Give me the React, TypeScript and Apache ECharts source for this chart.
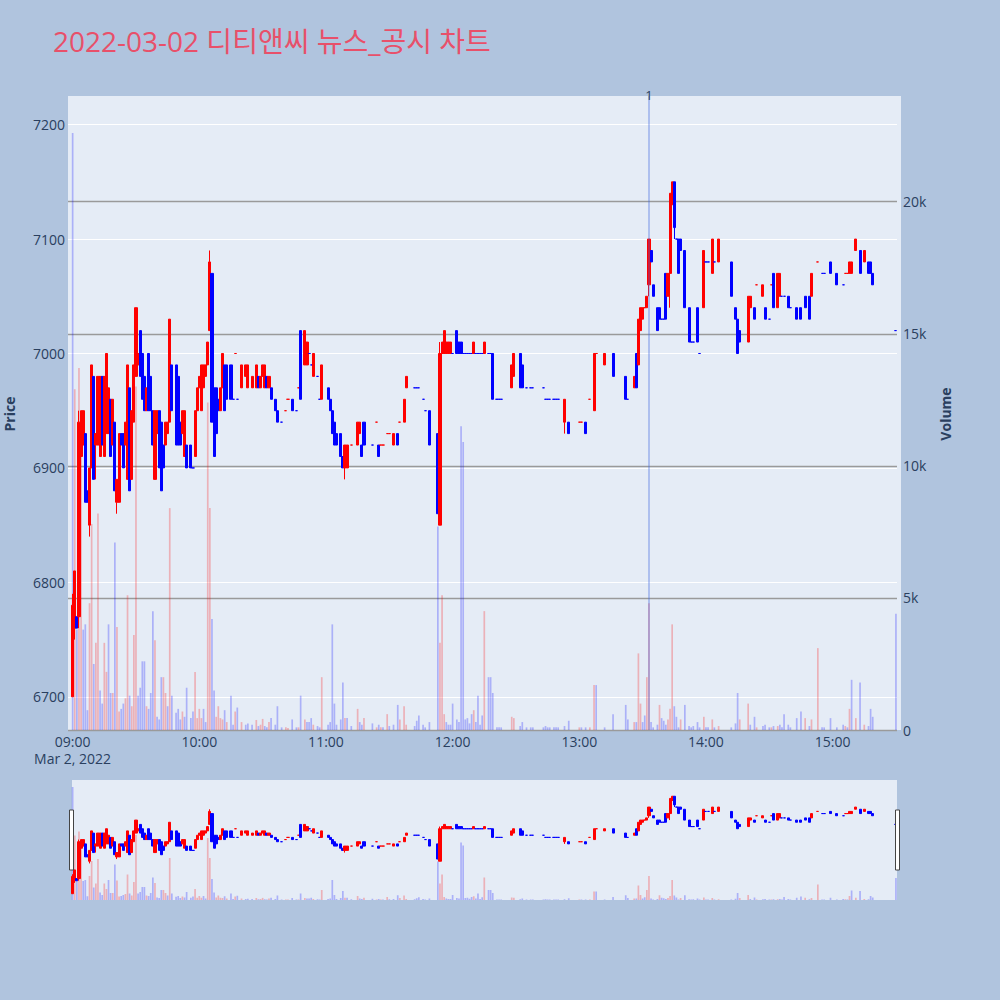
import React, { useEffect, useRef } from "react";
import * as echarts from "echarts";

const titleText = "2022-03-02 디티앤씨 뉴스_공시 차트";
const dateLabel = "Mar 2, 2022";
const hourTicks = ["09:00", "10:00", "11:00", "12:00", "13:00", "14:00", "15:00"];
const priceTicks = [6700, 6800, 6900, 7000, 7100, 7200];
const volumeTicks = [0, 5000, 10000, 15000, 20000];
const newsTimes = ["13:33"];
const newsLabels = ["1"];

const times = [
  "09:00","09:01","09:02","09:03","09:04","09:05","09:06","09:07","09:08","09:09",
  "09:10","09:11","09:12","09:13","09:14","09:15","09:16","09:17","09:18","09:19",
  "09:20","09:21","09:22","09:23","09:24","09:25","09:26","09:27","09:28","09:29",
  "09:30","09:31","09:32","09:33","09:34","09:35","09:36","09:37","09:38","09:39",
  "09:40","09:41","09:42","09:43","09:44","09:45","09:46","09:47",
  "09:49","09:50","09:51","09:52","09:53","09:54",
  "09:56","09:57","09:58","09:59",
  "10:00","10:01","10:02","10:03","10:04","10:05","10:06","10:07","10:08","10:09","10:10","10:11","10:12","10:13",
  "10:15","10:16","10:17","10:18",
  "10:20","10:22","10:23","10:25",
  "10:27","10:28","10:29","10:30","10:31","10:32","10:33","10:34",
  "10:36","10:37","10:39","10:41","10:42","10:44","10:46","10:47","10:48",
  "10:50","10:51","10:52","10:53","10:54","10:56","10:57","10:58",
  "11:01","11:02","11:03","11:04","11:05",
  "11:07","11:08","11:09","11:10",
  "11:12",
  "11:15","11:16","11:17","11:18",
  "11:22",
  "11:24","11:25","11:26","11:27",
  "11:29","11:30",
  "11:32",
  "11:34","11:35",
  "11:37","11:38",
  "11:42","11:43","11:44",
  "11:46","11:47",
  "11:49",
  "11:53","11:54","11:55","11:56","11:57","11:58","11:59",
  "12:00",
  "12:02","12:03","12:04","12:05","12:06","12:07","12:08","12:09","12:10","12:11","12:12","12:13","12:14","12:15",
  "12:17","12:18","12:19",
  "12:21","12:22","12:23",
  "12:28","12:29",
  "12:32","12:33",
  "12:35","12:37","12:38",
  "12:43","12:44","12:45","12:46",
  "12:48","12:49","12:50",
  "12:53","12:55",
  "13:00","13:01","13:03","13:05","13:07","13:08",
  "13:12","13:16",
  "13:22","13:23",
  "13:26","13:27","13:28","13:29","13:30","13:31","13:32","13:33","13:34","13:35",
  "13:37","13:38","13:39","13:40","13:41","13:42","13:43","13:44","13:45","13:46","13:47","13:48",
  "13:50",
  "13:52","13:53","13:54",
  "13:56","13:57",
  "13:59",
  "14:00","14:01","14:03","14:04","14:06",
  "14:12","14:14","14:15","14:16",
  "14:20","14:21","14:23","14:24",
  "14:27","14:28",
  "14:30","14:31","14:32",
  "14:34","14:35","14:36","14:37",
  "14:39","14:40",
  "14:43","14:45","14:47","14:49","14:50",
  "14:53","14:55","14:56",
  "14:59",
  "15:02","15:05","15:06","15:07","15:08","15:09","15:11","15:13","15:15","15:17","15:18","15:19","15:30",
];

const opens = [
  // 09
  6700,6760,6770,6770,6910,6920,6930,6880,6850,6900,
  6980,6920,6920,6910,6980,6910,6930,6930,6960,6920,
  6940,6870,6870,6930,6930,6920,6890,6970,6890,6940,
  6980,6990,7020,7000,6980,6950,7000,6980,6950,6890,
  6930,6950,6940,6920,6920,6930,6940,6990,
  6990,6980,6940,6930,6910,6920,
  6920,6900,6910,6950,
  // 10
  6970,6950,6970,6980,6990,7020,7070,6970,6970,6960,6950,6970,6990,6990,
  6990,6960,7000,6960,
  6970,6980,6970,6970,
  6970,6980,6970,6980,6970,6980,6970,6970,
  6960,6950,6940,6950,6960,6960,6950,6970,7020,
  6990,6990,7000,6990,6980,6980,6960,6960,
  // 11
  6970,6960,6950,6940,6930,
  6930,6910,6900,6900,
  6920,
  6920,6930,6920,6940,
  6920,
  6940,6920,6920,6920,
  6930,6930,
  6920,
  6930,6940,
  6940,6970,
  6970,6970,6970,
  6960,6950,
  6950,
  6930,6850,7000,7000,7000,7000,7000,
  // 12
  7000,
  7020,7010,7010,7000,7000,7000,7000,7000,7000,7000,7000,7000,7000,7000,
  7000,7000,7000,
  6960,6960,6960,
  6970,6980,
  7000,6990,
  6970,6970,6970,
  6970,6960,6960,6960,
  6960,6960,6960,
  6940,6940,
  // 13
  6940,6940,6940,6960,6950,7000,
  6990,7000,
  6980,6960,
  6970,7000,6990,7020,7030,7040,7040,7060,7090,7060,
  7040,7040,7030,7030,7070,7050,7070,7130,7150,7100,7100,7100,
  7090,
  7040,7010,7010,
  7040,7000,
  7040,
  // 14
  7080,7080,7070,7080,7080,
  7080,7040,7030,7020,
  7010,7040,7040,7060,
  7050,7040,
  7030,7060,7070,
  7040,7050,7050,7050,
  7050,7040,
  7040,7040,7050,7050,7050,
  7080,7070,7070,
  7080,
  // 15
  7070,7060,7070,7070,7070,7070,7090,7090,7080,7080,7080,7070,7020,
];

const closes = [
  // 09
  6780,6810,6760,6940,6950,6950,6870,6870,6900,6990,
  6890,6930,6980,6980,6920,6980,7000,6970,6910,6960,
  6880,6890,6930,6920,6900,6940,6990,6880,6950,6990,
  7040,7000,6980,6960,6950,6970,6950,6950,6920,6950,
  6950,6900,6880,6900,6940,6940,7030,6950,
  6920,6920,6920,6950,6950,6900,
  6900,6900,6950,6970,
  // 10
  6980,6990,6990,6990,7010,7080,6940,6910,6930,6950,6970,7000,6950,6960,
  6960,6960,7000,6960,
  6990,6990,6990,6980,
  6990,6970,6980,6990,6990,6970,6980,6960,
  6950,6940,6940,6950,6960,6950,6950,6970,6960,
  7020,7010,7000,6990,7000,6980,6960,6990,
  // 11
  6960,6950,6930,6920,6920,
  6910,6900,6920,6920,
  6920,
  6940,6940,6910,6920,
  6920,
  6940,6910,6920,6920,
  6930,6930,
  6930,
  6920,6940,
  6960,6980,
  6970,6970,6970,
  6960,6950,
  6920,
  6860,7000,7010,7020,7010,7010,7010,
  // 12
  7000,
  7000,7000,7000,7000,7000,7000,7000,7000,7010,7000,7000,7000,7000,7010,
  7000,7000,6960,
  6960,6960,6960,
  6990,7000,
  6970,6970,
  6970,6970,6970,
  6970,6960,6960,6960,
  6960,6960,6960,
  6960,6930,
  // 13
  6940,6940,6930,6960,7000,7000,
  7000,6980,
  6960,6960,
  6980,6970,7030,7040,7040,7040,7050,7100,7080,7050,
  7020,7030,7030,7030,7030,7070,7140,7150,7110,7100,7070,7090,
  7040,
  7010,7010,7010,
  7010,7000,
  7090,
  // 14
  7080,7080,7100,7080,7100,
  7050,7030,7000,7010,
  7050,7050,7030,7060,
  7060,7030,
  7030,7060,7040,
  7070,7070,7050,7050,
  7040,7040,
  7030,7030,7040,7030,7070,
  7080,7070,7070,
  7070,
  // 15
  7060,7060,7070,7070,7080,7080,7100,7070,7090,7070,7070,7060,7020,
];

const highs = [
  // 09
  6790,6810,6770,6950,6950,6950,6930,6880,6900,6990,
  6980,6930,6980,6980,6980,6980,7000,6970,6960,6960,
  6940,6890,6930,6930,6930,6940,6990,6970,6950,6990,
  7040,7000,7020,7000,6980,6970,7000,6980,6950,6950,
  6950,6950,6940,6920,6940,6940,7030,6990,
  6990,6980,6940,6950,6950,6920,
  6920,6900,6950,6970,
  // 10
  6980,6990,6990,6990,7010,7090,7070,6970,6970,6960,6970,7000,6990,6990,
  6990,6960,7000,6960,
  6990,6990,6990,6980,
  6990,6980,6980,6990,6990,6980,6980,6970,
  6960,6950,6940,6950,6960,6960,6950,6970,7020,
  7020,7010,7000,6990,7000,6980,6960,6990,
  // 11
  6970,6960,6950,6940,6930,
  6930,6910,6920,6920,
  6920,
  6940,6940,6920,6940,
  6920,
  6940,6920,6920,6920,
  6930,6930,
  6930,
  6930,6940,
  6960,6980,
  6970,6970,6970,
  6960,6950,
  6950,
  6930,7010,7010,7020,7010,7010,7010,
  // 12
  7000,
  7020,7010,7010,7000,7000,7000,7000,7000,7010,7000,7000,7000,7000,7010,
  7000,7000,7000,
  6960,6960,6960,
  6990,7000,
  7000,6990,
  6970,6970,6970,
  6970,6960,6960,6960,
  6960,6960,6960,
  6960,6940,
  // 13
  6940,6940,6940,6960,7000,7000,
  7000,7000,
  6980,6960,
  6980,7000,7030,7040,7040,7040,7050,7100,7090,7060,
  7040,7040,7030,7030,7070,7070,7140,7150,7150,7100,7100,7100,
  7090,
  7040,7010,7010,
  7040,7000,
  7090,
  // 14
  7080,7080,7100,7080,7100,
  7080,7040,7030,7020,
  7050,7050,7040,7060,
  7060,7040,
  7030,7060,7070,
  7070,7070,7050,7050,
  7050,7040,
  7040,7040,7050,7050,7070,
  7080,7070,7070,
  7080,
  // 15
  7070,7060,7070,7070,7080,7080,7100,7090,7090,7080,7080,7070,7020,
];

const lows = [
  // 09
  6700,6750,6760,6760,6910,6920,6870,6870,6840,6900,
  6890,6890,6920,6910,6920,6910,6930,6930,6910,6920,
  6880,6860,6870,6920,6900,6920,6890,6880,6890,6940,
  6980,6990,6980,6960,6950,6950,6950,6950,6920,6890,
  6930,6900,6880,6900,6920,6930,6940,6950,
  6920,6920,6920,6930,6910,6900,
  6900,6900,6910,6950,
  // 10
  6970,6950,6970,6980,6990,7020,6940,6910,6930,6950,6950,6970,6950,6960,
  6960,6960,7000,6960,
  6970,6980,6970,6970,
  6970,6970,6970,6980,6970,6970,6970,6960,
  6950,6940,6940,6950,6960,6950,6950,6970,6960,
  6990,6990,7000,6990,6980,6980,6960,6960,
  // 11
  6960,6950,6930,6920,6920,
  6910,6900,6890,6900,
  6920,
  6920,6930,6910,6920,
  6920,
  6940,6910,6920,6920,
  6930,6930,
  6920,
  6920,6940,
  6940,6970,
  6970,6970,6970,
  6960,6950,
  6920,
  6860,6850,7000,7000,7000,7000,7000,
  // 12
  7000,
  7000,7000,7000,7000,7000,7000,7000,7000,7000,7000,7000,7000,7000,7000,
  7000,7000,6960,
  6960,6960,6960,
  6970,6980,
  6970,6970,
  6970,6970,6970,
  6970,6960,6960,6960,
  6960,6960,6960,
  6930,6930,
  // 13
  6940,6940,6930,6960,6950,7000,
  6990,6980,
  6960,6960,
  6970,6970,6990,7020,7030,7040,7040,7050,7080,7050,
  7020,7030,7030,7030,7030,7050,7040,7130,7100,7100,7070,7090,
  7040,
  7010,7010,7010,
  7010,7000,
  7040,
  // 14
  7080,7080,7070,7080,7080,
  7050,7030,7000,7010,
  7010,7040,7030,7060,
  7050,7030,
  7030,7060,7040,
  7040,7050,7050,7050,
  7040,7040,
  7030,7030,7040,7030,7050,
  7080,7070,7070,
  7070,
  // 15
  7060,7060,7070,7070,7070,7070,7090,7070,7080,7070,7070,7060,7020,
];

const volumes = [
  // 09
  22600,12900,3800,13700,10900,3800,4000,750,4800,7800,
  2500,3300,8200,1500,1000,3300,2200,4000,1400,1400,
  7100,3900,700,800,1000,1200,5100,1300,900,3600,
  13000,1300,1600,2600,2600,900,800,1400,4500,3400,
  500,400,2000,2000,1400,900,8400,1300,
  650,800,400,700,500,1600,
  450,700,2200,450,
  // 10
  800,450,800,300,12400,8400,4200,1500,500,900,450,400,750,300,
  1300,200,700,850,
  300,200,250,200,
  380,150,200,420,150,100,300,450,
  200,900,100,100,80,400,100,100,1300,
  400,300,300,450,200,150,100,2000,
  // 11
  200,300,4000,1000,200,
  400,1800,450,450,
  150,
  800,300,200,450,
  250,
  100,200,100,100,
  600,150,
  200,
  950,400,
  900,200,
  150,350,550,
  200,100,
  300,
  7700,3300,5100,600,300,200,200,
  // 12
  1000,
  400,300,11500,10900,400,450,250,600,750,300,1300,200,550,4500,
  2000,2000,1400,
  100,100,100,
  500,450,
  150,300,
  100,100,100,
  100,150,100,100,
  100,100,100,
  150,350,
  // 13
  100,100,100,100,1700,1700,
  100,600,
  950,400,
  300,300,2900,1000,300,550,2000,4800,300,100,
  200,950,450,350,200,400,800,4000,900,500,100,400,
  950,
  150,100,150,
  300,100,
  500,
  // 14
  100,100,400,100,150,
  100,250,1400,400,
  1000,200,500,100,
  150,200,
  100,100,150,
  150,200,100,600,
  200,100,
  450,700,450,150,400,
  3100,100,100,
  450,
  // 15
  100,200,150,100,800,1900,450,1800,200,150,800,500,4400,
];

const UP = "#ff0000";
const DOWN = "#0000ff";
const VOL_UP = "rgba(255,0,0,0.25)";
const VOL_DOWN = "rgba(0,0,255,0.25)";
const FONT = '"Open Sans", "Noto Sans CJK KR", sans-serif';
const TEXT = "#2a3f5f";

function toMin(t: string): number {
  const [h, m] = t.split(":").map(Number);
  return (h - 9) * 60 + m;
}

export default function App() {
  const ref = useRef<HTMLDivElement>(null);

  useEffect(() => {
    document.body.style.margin = "0";
    if (!ref.current) return;
    const chart = echarts.init(ref.current, null, { renderer: "svg" });

    const n = Math.min(times.length, opens.length, closes.length, highs.length, lows.length, volumes.length);
    const dirs: boolean[] = [];
    for (let i = 0; i < n; i++) {
      const o = opens[i], c = closes[i];
      let up: boolean;
      if (c > o) up = true;
      else if (c < o) up = false;
      else if (i > 0 && c !== closes[i - 1]) up = c > closes[i - 1];
      else up = i > 0 ? dirs[i - 1] : true;
      dirs.push(up);
    }

    const candleData = [] as any[];
    const volData = [] as any[];
    for (let i = 0; i < n; i++) {
      const col = dirs[i] ? UP : DOWN;
      candleData.push({
        value: [toMin(times[i]), opens[i], closes[i], lows[i], highs[i]],
        itemStyle: { color: col, color0: col, borderColor: col, borderColor0: col },
      });
      const vUp = i > 0 && closes[i] > closes[i - 1];
      volData.push({
        value: [toMin(times[i]), volumes[i]],
        itemStyle: { color: vUp ? VOL_UP : VOL_DOWN },
      });
    }

    const hourValues = hourTicks.map(toMin);
    const fmtHour = (v: number) => {
      const idx = hourValues.indexOf(Math.round(v));
      return idx >= 0 ? hourTicks[idx] : "";
    };

    const candleBase = {
      type: "candlestick",
      barWidth: 2.6,
      encode: { x: 0, y: [1, 2, 3, 4] },
      itemStyle: { color: UP, color0: DOWN, borderColor: UP, borderColor0: DOWN, borderWidth: 1 },
      z: 3,
      silent: true,
    };
    const volBase = {
      type: "bar",
      barWidth: 1.7,
      encode: { x: 0, y: 1 },
      z: 1,
      silent: true,
    };

    const option: any = {
      animation: false,
      backgroundColor: "#b0c4de",
      textStyle: { fontFamily: FONT },
      title: {
        text: titleText,
        left: 48,
        top: 22,
        textStyle: { fontSize: 28, fontWeight: "normal", color: "#e8506a", fontFamily: FONT },
      },
      grid: [
        { left: 68, top: 96, width: 829, height: 634, show: true, backgroundColor: "#e5ecf6", borderWidth: 0 },
        { left: 72, top: 780, width: 825, height: 120, show: true, backgroundColor: "#e5ecf6", borderWidth: 0 },
      ],
      xAxis: [
        {
          type: "value",
          gridIndex: 0,
          min: -2.2,
          max: 390.5,
          axisLine: { show: false },
          axisTick: { show: false, customValues: hourValues },
          splitLine: { show: false },
          axisLabel: {
            customValues: hourValues,
            formatter: fmtHour,
            fontSize: 14,
            color: TEXT,
            margin: 4,
            fontFamily: FONT,
          },
        },
        {
          type: "value",
          gridIndex: 1,
          min: -0.3,
          max: 390.5,
          show: false,
          splitLine: { show: false },
        },
      ],
      yAxis: [
        {
          type: "value",
          gridIndex: 0,
          position: "left",
          min: 6671,
          max: 7225,
          axisLine: { show: false },
          axisTick: { show: false, customValues: priceTicks },
          axisLabel: {
            customValues: priceTicks,
            formatter: (v: number) => String(v),
            fontSize: 14,
            color: TEXT,
            margin: 3,
            fontFamily: FONT,
          },
          splitLine: { show: true, lineStyle: { color: "#ffffff", width: 1 } },
        },
        {
          type: "value",
          gridIndex: 0,
          position: "right",
          min: 0,
          max: 24000,
          axisLine: { show: false },
          axisTick: { show: false, customValues: volumeTicks },
          axisLabel: {
            customValues: volumeTicks,
            formatter: (v: number) => (v === 0 ? "0" : v / 1000 + "k"),
            fontSize: 14,
            color: TEXT,
            margin: 6,
            fontFamily: FONT,
          },
          splitLine: { show: true, lineStyle: { color: "#9a9a9a", width: 1.3 } },
        },
        { type: "value", gridIndex: 1, min: 6671, max: 7225, show: false, splitLine: { show: false } },
        { type: "value", gridIndex: 1, min: 0, max: 24000, show: false, splitLine: { show: false } },
      ],
      series: [
        { ...volBase, xAxisIndex: 0, yAxisIndex: 1, data: volData },
        {
          ...candleBase,
          xAxisIndex: 0,
          yAxisIndex: 0,
          data: candleData,
          markLine: {
            silent: true,
            symbol: ["none", "none"],
            animation: false,
            lineStyle: { color: "rgba(65,105,225,0.45)", width: 1.5, type: "solid" },
            label: { show: true, position: "end", color: TEXT, fontSize: 13, distance: -5, fontFamily: FONT },
            emphasis: { disabled: true },
            data: newsTimes.map((t, i) => ({ xAxis: toMin(t), label: { formatter: newsLabels[i] } })),
          },
        },
        { ...volBase, xAxisIndex: 1, yAxisIndex: 3, data: volData },
        { ...candleBase, xAxisIndex: 1, yAxisIndex: 2, data: candleData },
      ],
      graphic: [
        { type: "rect", shape: { x: 897, y: 96, width: 4, height: 634 }, style: { fill: "#e5ecf6" }, silent: true },
        {
          type: "text",
          x: 72.6,
          y: 758,
          style: { text: dateLabel, fill: TEXT, font: '14px "Open Sans", sans-serif', align: "center", verticalAlign: "middle" },
        },
        {
          type: "text",
          x: 9,
          y: 414,
          rotation: Math.PI / 2,
          style: { text: "Price", fill: TEXT, font: 'bold 14px "Open Sans", sans-serif', align: "center", verticalAlign: "middle" },
        },
        {
          type: "text",
          x: 945,
          y: 414,
          rotation: Math.PI / 2,
          style: { text: "Volume", fill: TEXT, font: 'bold 14px "Open Sans", sans-serif', align: "center", verticalAlign: "middle" },
        },
        { type: "rect", shape: { x: 69.5, y: 810, width: 4, height: 60 }, style: { fill: "#ffffff", stroke: "#444444", lineWidth: 1 }, z: 10 },
        { type: "rect", shape: { x: 895.5, y: 810, width: 4, height: 60 }, style: { fill: "#ffffff", stroke: "#444444", lineWidth: 1 }, z: 10 },
      ],
    };

    chart.setOption(option);
    return () => chart.dispose();
  }, []);

  return <div ref={ref} style={{ width: 1000, height: 1000 }} />;
}
